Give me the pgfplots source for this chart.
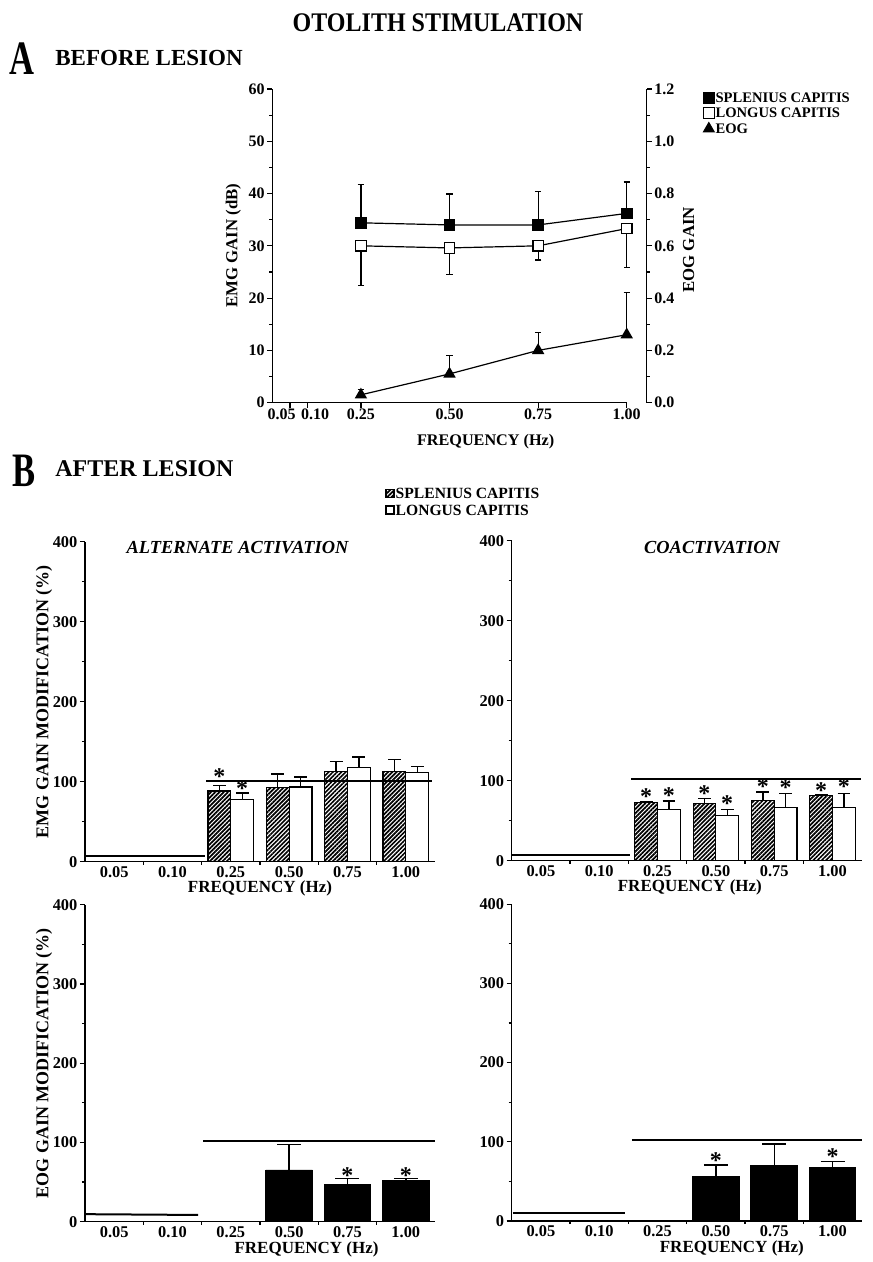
\documentclass[border=0pt]{standalone}
\usepackage{fontspec}
\setmainfont{Liberation Serif}
\usepackage{graphicx}
\usepackage{pgfplots}
\pgfplotsset{compat=1.18}
\usepackage{pgfplotstable}
\usetikzlibrary{patterns.meta}

\newcommand\F[1]{\fontsize{#1}{#1}\selectfont\bfseries}

\pgfplotstableread{
x S Se L Le E Ee
0.25 34.4 7.4 30.0 7.6 0.03 0.02
0.50 34.0 5.9 29.6 5.1 0.11 0.07
0.75 34.0 6.4 30.0 2.7 0.20 0.07
1.00 36.2 6.0 33.3 7.5 0.26 0.16
}\tabA
\pgfplotstableread{
x S Se L Le
2 88.4 6.6 78.0 8.0
3 93.0 16.6 93.4 12.6
4 112.5 12.5 118.0 13.0
5 112.5 15.5 111.0 7.7
}\tabEMGalt
\pgfplotstableread{
x S Se L Le
2 72.5 0.9 64.0 10.6
3 71.7 5.8 56.0 8.0
4 75.0 11.0 66.0 18.0
5 81.0 2.0 66.0 18.0
}\tabEMGco
\pgfplotstableread{
x E Ee
3 65.3 32.4
4 46.7 7.6
5 52.6 2.2
}\tabEOGalt
\pgfplotstableread{
x E Ee
3 55.9 14.7
4 69.7 27.7
5 67.7 7.1
}\tabEOGco

\tikzset{ast/.style={font=\F{12}, inner sep=0pt, anchor=base, yshift=-5.6pt}}

\pgfplotsset{
  common/.style={
    scale only axis,
    axis x line*=bottom, axis y line*=left,
    axis line style={line width=0.7pt},
    tick align=outside,
    every tick/.style={black, line width=0.6pt},
    major tick length=2.6pt, minor tick length=1.6pt,
    /pgf/number format/assume math mode=true,
    clip=false,
  },
  panelB/.style={
    common,
    width=175pt,
    xmin=-0.5, xmax=5.5, ymin=0, ymax=400,
    xtick={0,...,5}, xticklabels={0.05,0.10,0.25,0.50,0.75,1.00},
    major x tick style={draw=none},
    minor xtick={0.5,1.5,2.5,3.5,4.5},
    ytick={0,100,200,300,400}, minor ytick={50,150,250,350},
    ticklabel style={font=\F{8.2}},
    xticklabel style={inner sep=0pt, yshift=0.6pt},
    yticklabel style={inner sep=1pt},
    label style={font=\F{8.5}},
    xlabel style={inner sep=0pt},
    legend image code/.code={\draw[#1, line width=0.6pt] (0pt,-2pt) rectangle (4pt,2pt);},
  },
  hatch/.style={draw=black, line width=0.6pt, pattern={Lines[angle=45,distance=1.5pt,line width=0.85pt]}},
  open/.style={draw=black, line width=0.6pt, fill=white},
  barS/.style={ybar, bar width=0.39, bar shift=0pt, hatch, forget plot,
    error bars/.cd, y dir=plus, y explicit, error bar style={line width=0.7pt, solid},
    error mark options={rotate=90, line width=0.7pt, mark size=3.2pt}},
  barL/.style={ybar, bar width=0.39, bar shift=0pt, open, forget plot,
    error bars/.cd, y dir=plus, y explicit, error bar style={line width=0.7pt, solid},
    error mark options={rotate=90, line width=0.7pt, mark size=3.2pt}},
  barE/.style={ybar, bar width=0.8, bar shift=0pt, draw=black, fill=black, forget plot,
    error bars/.cd, y dir=plus, y explicit, error bar style={line width=0.7pt, solid},
    error mark options={rotate=90, line width=0.7pt, mark size=6pt}},
  refl/.style={black, line width=1pt, forget plot},
}

\begin{document}
\begin{tikzpicture}
\path[use as bounding box] (0pt,0pt) rectangle (436pt,631pt);

% ---------------- Panel A ----------------
\begin{axis}[common, at={(136.15pt,429.65pt)}, anchor=south west,
  width=177.2pt, height=156.85pt,
  xmin=0, xmax=1, ymin=0, ymax=60,
  xtick={0.05,0.10,0.25,0.50,0.75,1.00},
  xticklabels={\makebox[0pt]{\kern-8.3pt 0.05},\makebox[0pt]{0.10\kern-7.3pt},0.25,0.50,0.75,1.00},
  ytick={0,10,20,30,40,50,60}, minor y tick num=1,
  ticklabel style={font=\F{8}},
  xticklabel style={inner sep=0pt, yshift=-0.5pt},
  yticklabel style={inner sep=1pt},
  ylabel={EMG GAIN (dB)},
  ylabel style={at={(axis description cs:-0.110,0.5)}, anchor=center, font=\F{8.4}},
  xlabel={FREQUENCY (Hz)},
  xlabel style={at={(axis description cs:0.602,-0.124)}, anchor=center, font=\F{8.1}},
  legend image code/.code={\draw[#1] plot coordinates {(2.75pt,0pt)};},
  legend style={draw=none, fill=none, at={(axis description cs:1.215,0.994)}, anchor=north west,
    inner sep=0pt, row sep=1.25pt, font=\F{7.3},
    nodes={inner sep=0.6pt, text height=5pt, text depth=0.3pt}},
  legend cell align=left,
]
\addplot[black, line width=0.6pt, mark=square*, mark size=2.6pt, mark options={solid, fill=black}, forget plot,
  error bars/.cd, y dir=plus, y explicit, error bar style={line width=0.6pt},
  error mark options={rotate=90, line width=0.6pt, mark size=1.6pt}]
  table[x=x, y=S, y error=Se] {\tabA};
\addplot[black, line width=0.6pt, mark=square*, mark size=2.6pt, mark options={solid, fill=white}, forget plot,
  error bars/.cd, y dir=minus, y explicit, error bar style={line width=0.6pt},
  error mark options={rotate=90, line width=0.6pt, mark size=1.6pt}]
  table[x=x, y=L, y error=Le] {\tabA};
\addlegendimage{only marks, mark=square*, mark size=2.75pt, mark options={fill=black, draw=black}}
\addlegendentry{SPLENIUS CAPITIS}
\addlegendimage{only marks, mark=square*, mark size=2.75pt, mark options={fill=white, draw=black, line width=0.6pt}}
\addlegendentry{LONGUS CAPITIS}
\addlegendimage{only marks, mark=triangle*, mark size=3.2pt, mark options={fill=black, draw=black}}
\addlegendentry{EOG}
\end{axis}

\begin{axis}[common, at={(136.15pt,429.65pt)}, anchor=south west,
  width=187.2pt, height=156.85pt,
  xmin=0, xmax=1.05643, ymin=0, ymax=1.2,
  axis x line=none, axis y line*=right,
  ytick={0,0.2,0.4,0.6,0.8,1.0,1.2}, minor y tick num=1,
  yticklabel style={inner sep=1pt, font=\F{8}, /pgf/number format/.cd, fixed, fixed zerofill, precision=1},
  ylabel={EOG GAIN},
  ylabel style={at={(axis description cs:1.112,0.487)}, anchor=center, font=\F{8.4}},
]
\addplot[black, line width=0.6pt, mark=triangle*, mark size=3pt, mark options={solid, fill=black},
  error bars/.cd, y dir=plus, y explicit, error bar style={line width=0.6pt},
  error mark options={rotate=90, line width=0.6pt, mark size=1.6pt}]
  table[x=x, y=E, y error=Ee] {\tabA};
\end{axis}

% ---------------- Panel B: EMG alternate ----------------
\begin{axis}[panelB, at={(42.5pt,200.15pt)}, anchor=south west, height=160pt,
  ylabel={EMG GAIN MODIFICATION (\%)},
  ylabel style={at={(axis description cs:-0.117,0.5)}, anchor=center, font=\F{9}},
  xlabel={FREQUENCY (Hz)},
  xlabel style={at={(axis description cs:0.5,-0.085)}, anchor=center},
  legend style={draw=none, fill=none, at={(axis description cs:0.857,1.172)}, anchor=north west,
    inner sep=0pt, row sep=1.3pt, font=\F{7.8},
    nodes={inner sep=0.6pt, text height=5.3pt, text depth=0.3pt}},
  legend cell align=left,
]
\addplot[barS] table[x expr=\thisrow{x}-0.195, y=S, y error=Se] {\tabEMGalt};
\addplot[barL] table[x expr=\thisrow{x}+0.195, y=L, y error=Le] {\tabEMGalt};
\addplot[refl] coordinates {(-0.5,7) (1.55,7)};
\addplot[refl] coordinates {(1.58,101) (5.45,101)};
\addlegendimage{hatch}
\addlegendentry{SPLENIUS CAPITIS}
\addlegendimage{open}
\addlegendentry{LONGUS CAPITIS}
\node[ast] at (axis cs:1.805,111) {*};
\node[ast] at (axis cs:2.195,96) {*};
\end{axis}

% ---------------- Panel B: EMG coactivation ----------------
\begin{axis}[panelB, at={(255.85pt,200.65pt)}, anchor=south west, height=160pt,
  xlabel={FREQUENCY (Hz)},
  xlabel style={at={(axis description cs:0.509,-0.085)}, anchor=center},
]
\addplot[barS] table[x expr=\thisrow{x}-0.195, y=S, y error=Se] {\tabEMGco};
\addplot[barL] table[x expr=\thisrow{x}+0.195, y=L, y error=Le] {\tabEMGco};
\addplot[refl] coordinates {(-0.5,7) (1.53,7)};
\addplot[refl] coordinates {(1.55,101.5) (5.49,101.5)};
\node[ast] at (axis cs:1.805,84) {*};
\node[ast] at (axis cs:2.195,85) {*};
\node[ast] at (axis cs:2.805,88) {*};
\node[ast] at (axis cs:3.195,75) {*};
\node[ast] at (axis cs:3.805,97) {*};
\node[ast] at (axis cs:4.195,95) {*};
\node[ast] at (axis cs:4.805,92) {*};
\node[ast] at (axis cs:5.195,97) {*};
\end{axis}

% ---------------- Panel B: EOG alternate ----------------
\begin{axis}[panelB, at={(42.5pt,20.15pt)}, anchor=south west, height=158.4pt,
  ylabel={EOG GAIN MODIFICATION (\%)},
  ylabel style={at={(axis description cs:-0.117,0.5)}, anchor=center, font=\F{9}},
  xlabel={FREQUENCY (Hz)},
  xlabel style={at={(axis description cs:0.633,-0.088)}, anchor=center},
]
\addplot[barE] table[x=x, y=E, y error=Ee] {\tabEOGalt};
\addplot[refl] coordinates {(-0.5,9.5) (1.44,8.5)};
\addplot[refl] coordinates {(1.53,101.5) (5.5,101.5)};
\node[ast] at (axis cs:4,63) {*};
\node[ast] at (axis cs:5,63) {*};
\end{axis}

% ---------------- Panel B: EOG coactivation ----------------
\begin{axis}[panelB, at={(255.85pt,20.5pt)}, anchor=south west, height=158.4pt,
  xlabel={FREQUENCY (Hz)},
  xlabel style={at={(axis description cs:0.629,-0.088)}, anchor=center},
]
\addplot[barE] table[x=x, y=E, y error=Ee] {\tabEOGco};
\addplot[refl] coordinates {(-0.48,9.7) (1.44,9.7)};
\addplot[refl] coordinates {(1.56,102) (5.5,102)};
\node[ast] at (axis cs:3,81) {*};
\node[ast] at (axis cs:5,86) {*};
\end{axis}

% ---------------- Titles ----------------
\node[font=\F{12}, inner sep=0pt] at (219pt,619.75pt) {\scalebox{1}[1.12]{OTOLITH STIMULATION}};
\node[font=\F{24}, inner sep=0pt] at (10.75pt,601.5pt) {\scalebox{0.72}[1]{A}};
\node[font=\F{11.5}, inner sep=0pt, anchor=west] at (27.5pt,602pt) {BEFORE LESION};
\node[font=\F{24}, inner sep=0pt] at (12pt,395.5pt) {\scalebox{0.72}[1]{B}};
\node[font=\F{12}, inner sep=0pt, anchor=west] at (27.5pt,396.5pt) {AFTER LESION};
\node[font=\F{9.2}\itshape, inner sep=0pt] at (118.75pt,357pt) {ALTERNATE ACTIVATION};
\node[font=\F{9.2}\itshape, inner sep=0pt] at (356pt,357pt) {COACTIVATION};
\end{tikzpicture}
\end{document}
